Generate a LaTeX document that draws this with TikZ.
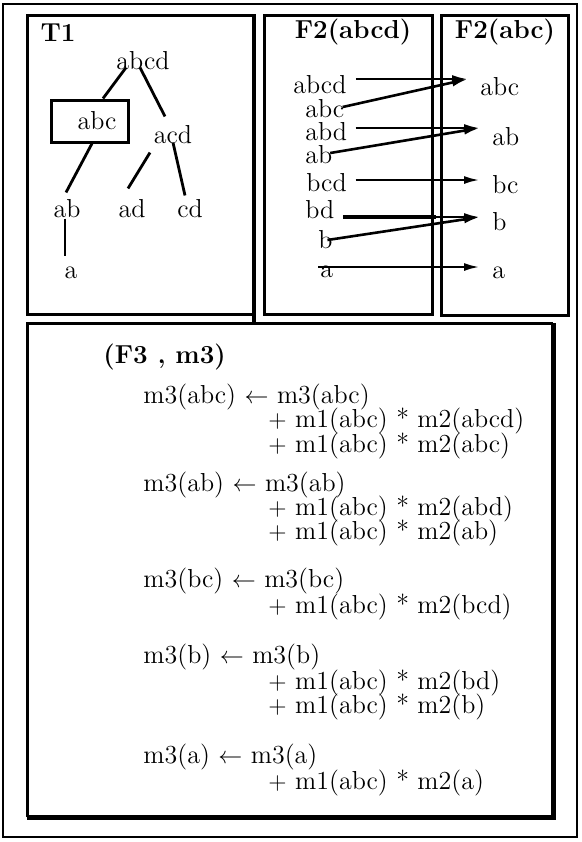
\documentclass[tikz,border=0pt]{standalone}
\usetikzlibrary{arrows.meta}

\tikzset{
  every node/.style={font=\fontsize{13}{15}\selectfont, inner sep=0pt},
  boxtitle/.style={font=\fontsize{13}{15}\selectfont\bfseries},
  branch/.style={line width=1.4pt},
  flow/.style={line width=1.3pt, -{Latex[length=8pt,width=4pt]}},
  frame/.style={line width=1.5pt},
  eq/.style={anchor=west},
  item/.style={anchor=west}
}

\begin{document}
\begin{tikzpicture}[x=0.5pt, y=-0.5pt]
  \useasboundingbox (0,0) rectangle (582,842);

  % frames
  \draw[line width=0.8pt] (3,4) rectangle (577,837);
  \draw[frame] (27,15) rectangle (254,314);
  \draw[line width=2pt] (254,15) -- (254,325);
  \draw[frame] (264,15) rectangle (432,314);
  \draw[frame] (441,15) rectangle (568,315);
  \draw[frame] (27,817) -- (27,323) -- (553,323);
  \draw[line width=2.5pt] (553,323) -- (553,817) -- (27,817);

  % T1
  \node[boxtitle] (t1) at (58,33) {T1};
  \node (abcd) at (143,61) {abcd};
  \node[draw, line width=1.5pt, minimum width=38.5pt, minimum height=21pt] (abc) at (90,121) {\hspace{7pt}abc};
  \node (acd) at (173,135) {acd};
  \node (ab) at (67,209) {ab};
  \node (ad) at (132,209) {ad};
  \node (cd) at (190,209) {cd};
  \node (a) at (71,273) {a};

  \draw[branch] ([xshift=-8.5pt,yshift=1.5pt]abcd.south) -- ([xshift=6.5pt]abc.north);
  \draw[branch] ([xshift=-1.5pt,yshift=1.5pt]abcd.south) -- ([xshift=-4pt,yshift=4.5pt]acd.north);
  \draw[branch] ([xshift=1pt]abc.south) -- ([xshift=-0.5pt,yshift=3.5pt]ab.north);
  \draw[branch] ([xshift=-11.5pt,yshift=-4pt]acd.south) -- ([xshift=-2pt,yshift=5.5pt]ad.north);
  \draw[branch] ([yshift=1pt]acd.south) -- ([xshift=-2.5pt,yshift=2pt]cd.north);
  \draw[branch] ([xshift=-1pt]ab.south) -- ([xshift=-3pt,yshift=5.5pt]a.north);

  % F2(abcd) -> F2(abc)
  \node[boxtitle] (f2abcd) at (353,32) {F2(abcd)};
  \node[boxtitle] (f2abc) at (505,32) {F2(abc)};

  \node[item] (sabcd) at (293,85) {abcd};
  \node[item] (sabc) at (305,109) {abc};
  \node[item] (sabd) at (305,132) {abd};
  \node[item] (sab) at (305,155) {ab};
  \node[item] (sbcd) at (306,183) {bcd};
  \node[item] (sbd) at (305,210) {bd};
  \node[item] (sb) at (318,240) {b};
  \node[item] (sa) at (320,272) {a};

  \node[item] (tabc) at (480,87) {abc};
  \node[item] (tab) at (492,137) {ab};
  \node[item] (tbc) at (492,185) {bc};
  \node[item] (tb) at (492,222) {b};
  \node[item] (ta) at (492,273) {a};

  \coordinate (bdcut) at (436,217);

  \draw[flow] ([xshift=4.5pt,yshift=3pt]sabcd.east) -- ([xshift=-6pt,yshift=4pt]tabc.west);
  \draw[flow] ([xshift=-1pt,yshift=1pt]sabc.east) -- ([xshift=-6pt,yshift=4pt]tabc.west);
  \draw[flow] ([xshift=4pt,yshift=2pt]sabd.east) -- ([xshift=-6pt,yshift=4.5pt]tab.west);
  \draw[flow] ([xshift=-1.25pt,yshift=1pt]sab.east) -- ([xshift=-6pt,yshift=4.5pt]tab.west);
  \draw[flow] ([xshift=4.25pt,yshift=1.5pt]sbcd.east) -- ([xshift=-6pt,yshift=2.5pt]tbc.west);
  \draw[line width=2.4pt] ([xshift=4pt,yshift=-3.5pt]sbd.east) -- (bdcut);
  \draw[flow] ([xshift=4pt,yshift=-3.5pt]sbd.east) -- ([xshift=-6pt,yshift=2.5pt]tb.west);
  \draw[flow] ([xshift=-2.75pt]sb.east) -- ([xshift=-6pt,yshift=2.5pt]tb.west);
  \draw[flow] ([xshift=-1pt,yshift=2.5pt]sa.west) -- ([xshift=-6pt,yshift=3pt]ta.west);

  % (F3, m3)
  \node[boxtitle, anchor=west] (f3) at (103,357) {(F3 , m3)};

  \node[eq] (rabc) at (143,397) {m3(abc) $\leftarrow$ m3(abc)};
  \node[eq] (rabc1) at (268,421) {$+$ m1(abc) * m2(abcd)};
  \node[eq] (rabc2) at (268,446) {$+$ m1(abc) * m2(abc)};

  \node[eq] (rab) at (143,485) {m3(ab) $\leftarrow$ m3(ab)};
  \node[eq] (rab1) at (268,509) {$+$ m1(abc) * m2(abd)};
  \node[eq] (rab2) at (268,533) {$+$ m1(abc) * m2(ab)};

  \node[eq] (rbc) at (143,581) {m3(bc) $\leftarrow$ m3(bc)};
  \node[eq] (rbc1) at (268,607) {$+$ m1(abc) * m2(bcd)};

  \node[eq] (rb) at (143,657) {m3(b) $\leftarrow$ m3(b)};
  \node[eq] (rb1) at (268,683) {$+$ m1(abc) * m2(bd)};
  \node[eq] (rb2) at (268,707) {$+$ m1(abc) * m2(b)};

  \node[eq] (ra) at (143,757) {m3(a) $\leftarrow$ m3(a)};
  \node[eq] (ra1) at (268,783) {$+$ m1(abc) * m2(a)};
\end{tikzpicture}
\end{document}
